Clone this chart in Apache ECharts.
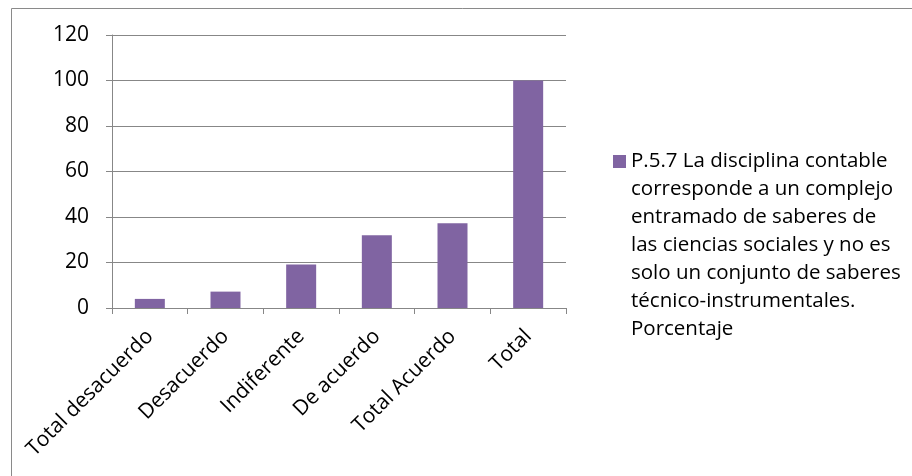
<!DOCTYPE html>
<html>
<head>
<meta charset="utf-8">
<script src="https://cdn.jsdelivr.net/npm/echarts@6/dist/echarts.min.js"></script>
<style>html,body{margin:0;padding:0;background:#fff}#c{width:912px;height:476px}</style>
</head>
<body>
<div id="c"></div>
<script>
const categories = ['Total desacuerdo', 'Desacuerdo', 'Indiferente', 'De acuerdo', 'Total Acuerdo', 'Total'];
const values = [4, 7.2, 19.1, 32, 37.2, 100];
const seriesName = 'P.5.7 La disciplina contable corresponde a un complejo entramado de saberes de las ciencias sociales y no es solo un conjunto de saberes técnico-instrumentales. Porcentaje';
const legendLines = ['P.5.7 La disciplina contable', 'corresponde a un complejo', 'entramado de saberes de', 'las ciencias sociales y no es', 'solo un conjunto de saberes', 'técnico-instrumentales.', 'Porcentaje'];
const yTicks = { min: 0, max: 120, interval: 20 };

const FONT = 'Open Sans';
const FS = 21;
const LH = 28;
const n = legendLines.length;
const chart = echarts.init(document.getElementById('c'), null, { renderer: 'canvas' });
chart.setOption({
  animation: false,
  backgroundColor: '#fff',
  textStyle: { fontFamily: FONT },
  graphic: [{
    type: 'rect', left: 9, top: 6, silent: true,
    shape: { x: 0, y: 0, width: 1000, height: 1000 },
    style: { fill: 'none', stroke: '#8a8a8a', lineWidth: 1 }
  }],
  grid: { left: 112, top: 35, right: 346, bottom: 168, containLabel: false },
  legend: {
    left: 608,
    top: 150 - ((2 * n - 1) * LH / 2 - 6.5),
    itemWidth: 13, itemHeight: 13, icon: 'rect',
    data: [seriesName],
    formatter: () => ' \n'.repeat(n - 1) + legendLines.join('\n'),
    textStyle: { fontFamily: FONT, fontSize: 20.5, color: '#000', lineHeight: LH }
  },
  xAxis: {
    type: 'category', data: categories,
    axisLine: { lineStyle: { color: '#878787', width: 1 } },
    axisTick: { show: true, length: 6, lineStyle: { color: '#878787' } },
    axisLabel: { rotate: 45, margin: 25, color: '#000', fontFamily: FONT, fontSize: FS, interval: 0 },
    splitLine: { show: false }
  },
  yAxis: {
    type: 'value', min: yTicks.min, max: yTicks.max, interval: yTicks.interval,
    axisLine: { show: true, lineStyle: { color: '#878787', width: 1 } },
    axisTick: { show: true, length: 6, lineStyle: { color: '#878787' } },
    axisLabel: { margin: 23, color: '#000', fontFamily: FONT, fontSize: FS },
    splitLine: { show: true, lineStyle: { color: '#878787', width: 1 } }
  },
  series: [{
    name: seriesName, type: 'bar', data: values, barWidth: 30,
    itemStyle: { color: '#8064A2' }
  }]
});
</script>
</body>
</html>
